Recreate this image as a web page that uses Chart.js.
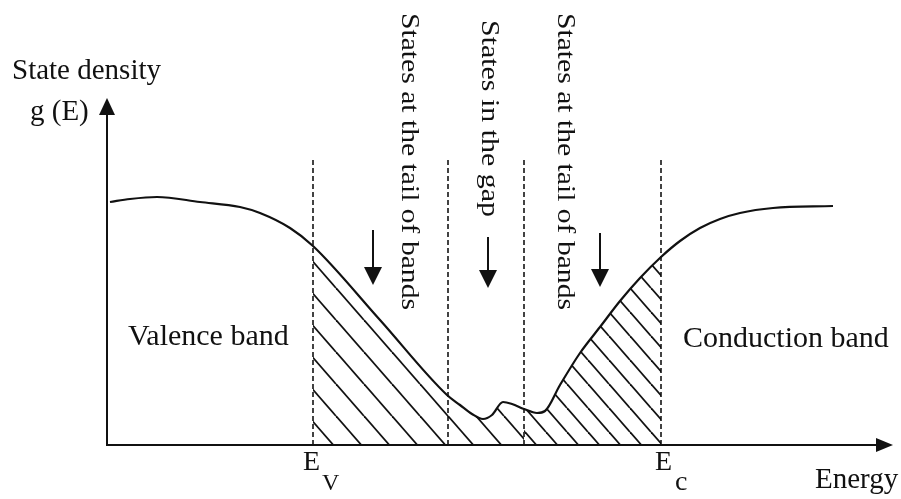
<!DOCTYPE html>
<html>
<head>
<meta charset="utf-8">
<title>State density g(E)</title>
<script src="https://cdn.jsdelivr.net/npm/chart.js@4/dist/chart.umd.min.js"></script>
<style>
  html, body { margin: 0; padding: 0; background: #fff; }
  canvas { display: block; }
</style>
</head>
<body>
<canvas id="dos-chart" width="901" height="499"></canvas>
<script>
// --- data (arbitrary units) ---
const energy = [3, 23, 50, 93, 133, 153, 183, 206, 273, 340, 353, 365, 376, 385, 396, 405, 417, 430, 438, 453, 473, 493, 513, 533, 554, 573, 593, 613, 633, 666, 726];
const density = [243, 246, 248, 243, 238, 232, 217, 199, 125, 50, 40, 31, 26, 30, 43, 41, 36, 32, 34, 60, 92, 118, 144, 167, 188, 204, 217, 226, 232, 237, 239];

const Ev = 206;
const Ec = 554;
const gapEdges = [341, 417];
const dashTop = 287;

const arrowX = [266, 381, 493];
const arrowTop = [215, 208, 212];
const arrowTip = [160, 157, 158];

const vertLabels = ['States at the tail of bands', 'States in the gap', 'States at the tail of bands'];

const xMax = 786;
const yMax = 347;

// hatch pattern: "\" lines, dx apart along x, dy apart along y
function makeHatch(dx, dy, lw) {
  const c = document.createElement('canvas');
  c.width = dx;
  c.height = dy;
  const g = c.getContext('2d');
  g.strokeStyle = '#111';
  g.lineWidth = lw;
  for (let k = -1; k <= 1; k++) {
    g.beginPath();
    g.moveTo(k * dx, 0);
    g.lineTo(k * dx + dx, dy);
    g.stroke();
  }
  return g.createPattern(c, 'repeat');
}

const pts = energy.map((e, i) => ({ x: e, y: density[i] }));
const zoneA = pts.filter(p => p.x >= Ev && p.x <= gapEdges[1]);
const zoneB = pts.filter(p => p.x >= gapEdges[1] && p.x <= Ec);

const dashLines = [Ev, gapEdges[0], gapEdges[1], Ec].map(x => ({
  data: [{ x: x, y: 0 }, { x: x, y: dashTop }],
  borderColor: '#222',
  borderWidth: 1.7,
  borderDash: [5, 3],
  pointRadius: 0,
  fill: false,
  order: 3
}));

function drawArrowHead(ctx, x, y, dir, len, half) {
  ctx.beginPath();
  if (dir === 'up') {
    ctx.moveTo(x, y); ctx.lineTo(x - half, y + len); ctx.lineTo(x + half, y + len);
  } else if (dir === 'down') {
    ctx.moveTo(x, y); ctx.lineTo(x - half, y - len); ctx.lineTo(x + half, y - len);
  } else {
    ctx.moveTo(x, y); ctx.lineTo(x - len, y - half); ctx.lineTo(x - len, y + half);
  }
  ctx.closePath();
  ctx.fill();
}

const decor = {
  id: 'decor',
  afterDraw(chart) {
    const ctx = chart.ctx;
    const xs = chart.scales.x, ys = chart.scales.y;
    const a = chart.chartArea;
    ctx.save();
    ctx.strokeStyle = '#111';
    ctx.fillStyle = '#111';

    // axes
    ctx.lineWidth = 2;
    ctx.beginPath();
    ctx.moveTo(a.left, a.top + 10);
    ctx.lineTo(a.left, a.bottom);
    ctx.lineTo(a.right - 10, a.bottom);
    ctx.stroke();
    drawArrowHead(ctx, a.left, a.top, 'up', 17, 8);
    drawArrowHead(ctx, a.right, a.bottom, 'right', 17, 7);

    // down arrows
    ctx.lineWidth = 2;
    arrowX.forEach((v, i) => {
      const px = xs.getPixelForValue(v);
      const top = ys.getPixelForValue(arrowTop[i]);
      const tip = ys.getPixelForValue(arrowTip[i]);
      ctx.beginPath();
      ctx.moveTo(px, top);
      ctx.lineTo(px, tip - 12);
      ctx.stroke();
      drawArrowHead(ctx, px, tip, 'down', 18, 9);
    });

    // horizontal text
    ctx.textAlign = 'left';
    ctx.textBaseline = 'alphabetic';
    ctx.font = '29px "Liberation Serif", "Times New Roman", serif';
    ctx.fillText('State density', 12, 79);
    ctx.fillText('g (E)', 30, 120);
    ctx.fillText('Energy', 815, 488);
    ctx.font = '30px "Liberation Serif", "Times New Roman", serif';
    ctx.fillText('Valence band', 128, 345);
    ctx.fillText('Conduction band', 683, 347);

    // band edge labels
    ctx.font = '28px "Liberation Serif", "Times New Roman", serif';
    ctx.fillText('E', xs.getPixelForValue(Ev) - 10, 470);
    ctx.fillText('E', xs.getPixelForValue(Ec) - 6, 470);
    ctx.font = '24px "Liberation Serif", "Times New Roman", serif';
    ctx.fillText('V', xs.getPixelForValue(Ev) + 9, 490);
    ctx.font = '28px "Liberation Serif", "Times New Roman", serif';
    ctx.fillText('c', xs.getPixelForValue(Ec) + 14, 490);

    // vertical labels, reading top to bottom
    const vx = [402, 482, 558];
    const vy = [13, 20, 13];
    const vlen = [297, 197, 297];
    ctx.font = '26px "Liberation Serif", "Times New Roman", serif';
    vertLabels.forEach((t, i) => {
      const w = ctx.measureText(t).width;
      ctx.save();
      ctx.translate(vx[i], vy[i]);
      ctx.rotate(Math.PI / 2);
      ctx.scale(vlen[i] / w, 1);
      ctx.fillText(t, 0, 0);
      ctx.restore();
    });

    ctx.restore();
  }
};

new Chart(document.getElementById('dos-chart'), {
  type: 'line',
  data: {
    datasets: [
      {
        data: pts,
        borderColor: '#111',
        borderWidth: 2.2,
        pointRadius: 0,
        cubicInterpolationMode: 'monotone',
        fill: false,
        order: 0
      },
      {
        data: zoneA,
        borderWidth: 0,
        borderColor: 'rgba(0,0,0,0)',
        backgroundColor: makeHatch(28, 32, 1.8),
        pointRadius: 0,
        cubicInterpolationMode: 'monotone',
        fill: 'origin',
        order: 1
      },
      {
        data: zoneB,
        borderWidth: 0,
        borderColor: 'rgba(0,0,0,0)',
        backgroundColor: makeHatch(21, 24, 1.8),
        pointRadius: 0,
        cubicInterpolationMode: 'monotone',
        fill: 'origin',
        order: 2
      },
      ...dashLines
    ]
  },
  options: {
    responsive: false,
    animation: false,
    devicePixelRatio: 1,
    layout: { padding: { left: 107, right: 8, top: 98, bottom: 54 } },
    scales: {
      x: { type: 'linear', min: 0, max: xMax, display: false },
      y: { min: 0, max: yMax, display: false }
    },
    plugins: {
      legend: { display: false },
      tooltip: { enabled: false }
    }
  },
  plugins: [decor]
});
</script>
</body>
</html>
